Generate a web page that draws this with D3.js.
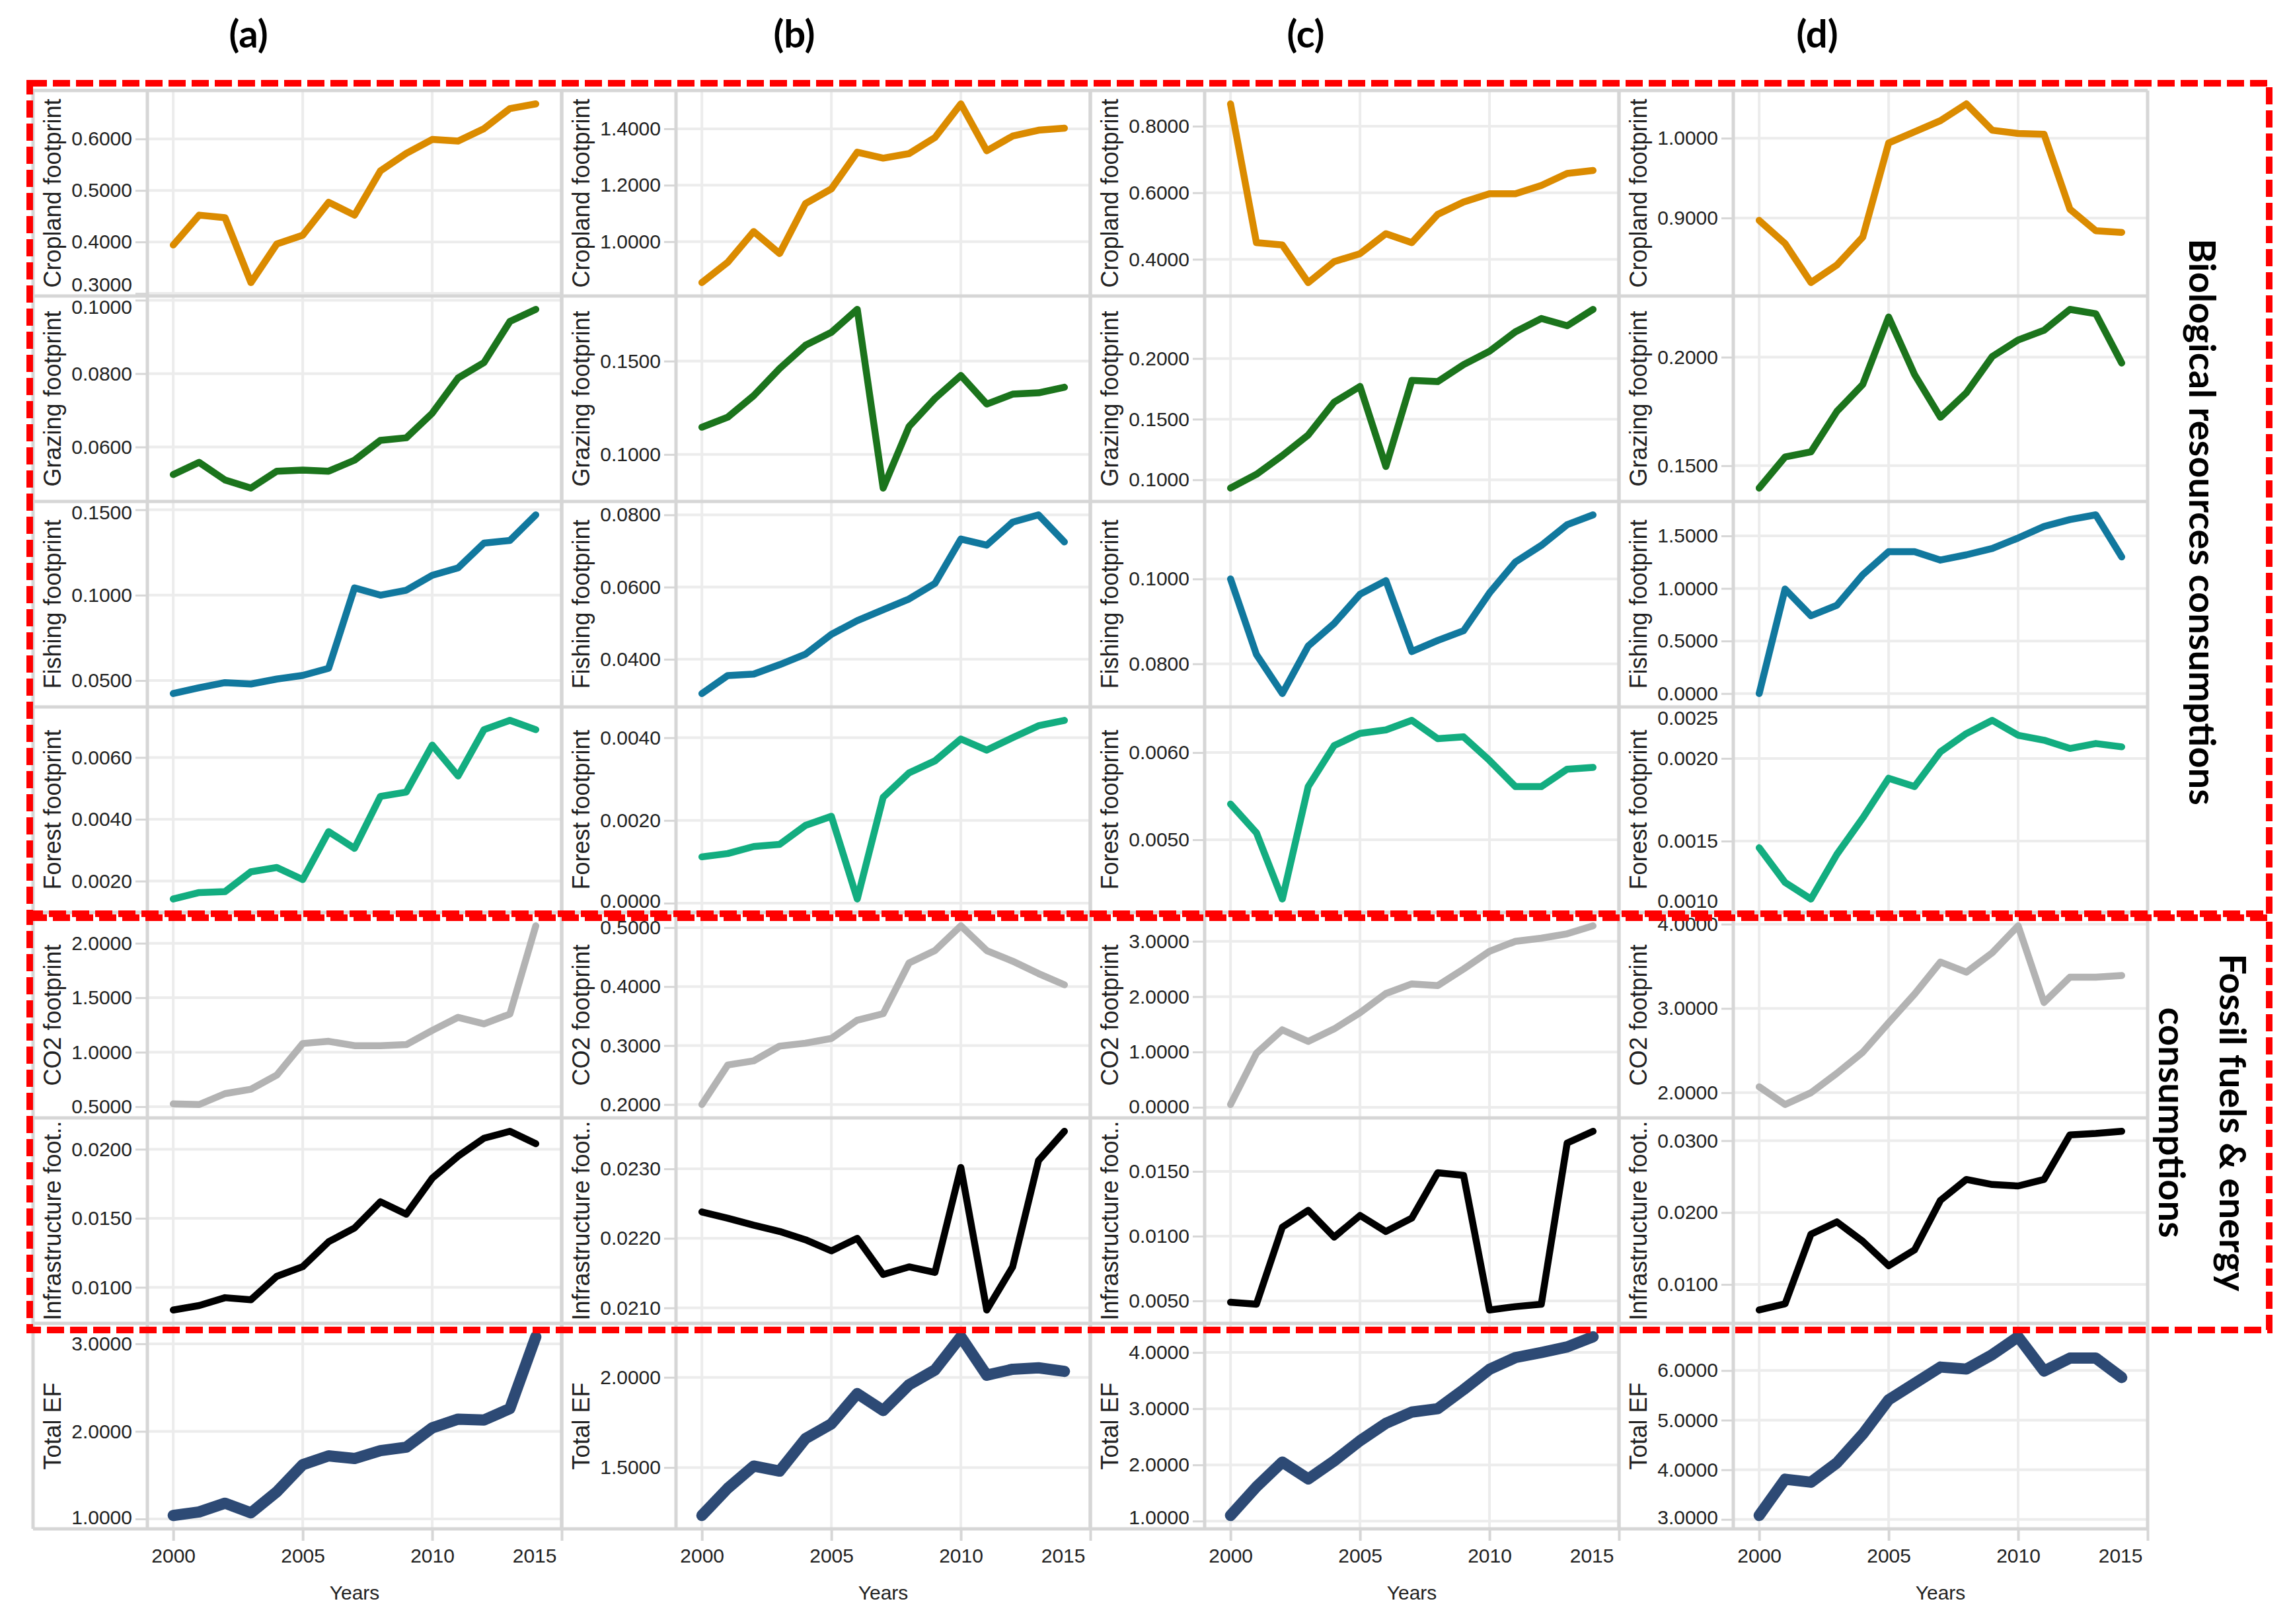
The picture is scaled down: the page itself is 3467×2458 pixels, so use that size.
<!DOCTYPE html>
<html lang="en">
<head>
<meta charset="utf-8">
<title>Footprint components 2000-2014</title>
<script src="https://d3js.org/d3.v7.min.js"></script>
<style>
  body { margin: 0; padding: 0; overflow: hidden; background: #fff; }
  text { font-family: "Liberation Sans", Arial, sans-serif; }
</style>
</head>
<body>
<svg id="chart"></svg>
<script>
const width = 3467;
const height = 2458;

// ---- data ----
const years = [2000, 2001, 2002, 2003, 2004, 2005, 2006, 2007, 2008, 2009, 2010, 2011, 2012, 2013, 2014];
const yearTicks = [2000, 2005, 2010, 2015];
const columnLabels = ["(a)", "(b)", "(c)", "(d)"];
const rowTitles = ["Cropland footprint", "Grazing footprint", "Fishing footprint", "Forest footprint",
  "CO2 footprint", "Infrastructure foot..", "Total EF"];

// one array per column (a, b, c, d)
const cropland = [
  [0.394, 0.452, 0.447, 0.321, 0.396, 0.413, 0.477, 0.452, 0.538, 0.572, 0.599, 0.596, 0.620, 0.659, 0.668],
  [0.855, 0.927, 1.036, 0.958, 1.135, 1.187, 1.317, 1.296, 1.312, 1.369, 1.488, 1.322, 1.374, 1.395, 1.402],
  [0.867, 0.450, 0.443, 0.330, 0.393, 0.417, 0.477, 0.450, 0.535, 0.572, 0.597, 0.597, 0.622, 0.658, 0.667],
  [0.897, 0.868, 0.819, 0.841, 0.876, 0.994, 1.008, 1.022, 1.043, 1.010, 1.006, 1.005, 0.911, 0.884, 0.882]
];
const grazing = [
  [0.0525, 0.0558, 0.0510, 0.0488, 0.0534, 0.0537, 0.0534, 0.0564, 0.0618, 0.0625, 0.0692, 0.0788, 0.0830, 0.0942, 0.0975],
  [0.1146, 0.1200, 0.1315, 0.1460, 0.1585, 0.1654, 0.1777, 0.0820, 0.1150, 0.1300, 0.1423, 0.1270, 0.1323, 0.1330, 0.1360],
  [0.0932, 0.1045, 0.1200, 0.1370, 0.1640, 0.1770, 0.1110, 0.1820, 0.1810, 0.1950, 0.2060, 0.2220, 0.2330, 0.2270, 0.2405],
  [0.1397, 0.1540, 0.1564, 0.1750, 0.1874, 0.2185, 0.1920, 0.1723, 0.1836, 0.2003, 0.2079, 0.2124, 0.2220, 0.2200, 0.1973]
];
const fishing = [
  [0.0424, 0.0458, 0.0488, 0.0480, 0.0509, 0.0530, 0.0572, 0.1043, 0.1000, 0.1029, 0.1116, 0.1160, 0.1305, 0.1320, 0.1470],
  [0.0305, 0.0355, 0.0359, 0.0385, 0.0414, 0.0469, 0.0507, 0.0537, 0.0567, 0.0610, 0.0733, 0.0716, 0.0780, 0.0800, 0.0725],
  [0.1000, 0.0822, 0.0730, 0.0842, 0.0895, 0.0964, 0.0996, 0.0829, 0.0855, 0.0878, 0.0967, 0.1040, 0.1079, 0.1128, 0.1151],
  [0.000, 0.994, 0.740, 0.840, 1.130, 1.350, 1.350, 1.270, 1.320, 1.380, 1.480, 1.590, 1.655, 1.700, 1.300]
];
const forest = [
  [0.00142, 0.00163, 0.00166, 0.00230, 0.00244, 0.00205, 0.00360, 0.00306, 0.00474, 0.00488, 0.00640, 0.00540, 0.00690, 0.00720, 0.00690],
  [0.00112, 0.00120, 0.00137, 0.00142, 0.00188, 0.00210, 0.00010, 0.00256, 0.00315, 0.00344, 0.00397, 0.00370, 0.00400, 0.00429, 0.00442],
  [0.00541, 0.00508, 0.00432, 0.00561, 0.00608, 0.00622, 0.00626, 0.00637, 0.00616, 0.00618, 0.00591, 0.00561, 0.00561, 0.00581, 0.00583],
  [0.00146, 0.00125, 0.00115, 0.00142, 0.00164, 0.00188, 0.00183, 0.00204, 0.00215, 0.00223, 0.00214, 0.00211, 0.00206, 0.00209, 0.00207]
];
const co2 = [
  [0.526, 0.520, 0.620, 0.660, 0.790, 1.080, 1.100, 1.060, 1.060, 1.070, 1.200, 1.320, 1.260, 1.350, 2.160],
  [0.200, 0.267, 0.274, 0.299, 0.304, 0.312, 0.343, 0.354, 0.440, 0.461, 0.503, 0.461, 0.443, 0.422, 0.403],
  [0.050, 0.976, 1.400, 1.190, 1.416, 1.710, 2.056, 2.230, 2.200, 2.500, 2.820, 3.000, 3.056, 3.136, 3.280],
  [2.070, 1.860, 2.000, 2.230, 2.480, 2.830, 3.170, 3.550, 3.430, 3.660, 3.980, 3.070, 3.370, 3.370, 3.390]
];
const infrastructure = [
  [0.00836, 0.00868, 0.00925, 0.00910, 0.01080, 0.01150, 0.01330, 0.01430, 0.01620, 0.01530, 0.01790, 0.01950, 0.02080, 0.02130, 0.02040],
  [0.02238, 0.02229, 0.02219, 0.02210, 0.02198, 0.02182, 0.02200, 0.02148, 0.02159, 0.02151, 0.02302, 0.02097, 0.02159, 0.02312, 0.02354],
  [0.00490, 0.00475, 0.01070, 0.01200, 0.00993, 0.01160, 0.01036, 0.01140, 0.01490, 0.01470, 0.00430, 0.00456, 0.00474, 0.01720, 0.01810],
  [0.00645, 0.00730, 0.01700, 0.01870, 0.01600, 0.01260, 0.01480, 0.02170, 0.02460, 0.02390, 0.02370, 0.02460, 0.03080, 0.03100, 0.03130]
];
const totalEF = [
  [1.04, 1.08, 1.18, 1.07, 1.31, 1.62, 1.72, 1.69, 1.78, 1.82, 2.04, 2.14, 2.13, 2.26, 3.08],
  [1.234, 1.385, 1.508, 1.480, 1.660, 1.742, 1.910, 1.816, 1.959, 2.041, 2.225, 2.012, 2.045, 2.053, 2.033],
  [1.10, 1.61, 2.05, 1.75, 2.07, 2.43, 2.74, 2.94, 3.00, 3.34, 3.70, 3.91, 4.00, 4.10, 4.28],
  [3.08, 3.81, 3.75, 4.14, 4.72, 5.41, 5.74, 6.07, 6.03, 6.32, 6.68, 5.99, 6.25, 6.25, 5.86]
];

// y tick values shown on each panel, per column
const croplandTicks = [[0.3, 0.4, 0.5, 0.6], [1.0, 1.2, 1.4], [0.4, 0.6, 0.8], [0.9, 1.0]];
const grazingTicks = [[0.06, 0.08, 0.10], [0.10, 0.15], [0.10, 0.15, 0.20], [0.15, 0.20]];
const fishingTicks = [[0.05, 0.10, 0.15], [0.04, 0.06, 0.08], [0.08, 0.10], [0, 0.5, 1.0, 1.5]];
const forestTicks = [[0.002, 0.004, 0.006], [0, 0.002, 0.004], [0.005, 0.006], [0.001, 0.0015, 0.002, 0.0025]];
const co2Ticks = [[0.5, 1.0, 1.5, 2.0], [0.2, 0.3, 0.4, 0.5], [0, 1, 2, 3], [2, 3, 4]];
const infrastructureTicks = [[0.01, 0.015, 0.02], [0.021, 0.022, 0.023], [0.005, 0.010, 0.015], [0.01, 0.02, 0.03]];
const totalTicks = [[1, 2, 3], [1.5, 2.0], [1, 2, 3, 4], [3, 4, 5, 6]];

const rowData = [cropland, grazing, fishing, forest, co2, infrastructure, totalEF];
const rowTicks = [croplandTicks, grazingTicks, fishingTicks, forestTicks, co2Ticks, infrastructureTicks, totalTicks];

// ---- styles / layout ----
const rowColors = ["#db8b00", "#1b741c", "#11789e", "#13ad80", "#b3b3b3", "#000000", "#2d4a75"];
const rowWidths = [10.5, 10.5, 10.5, 10.5, 10.5, 10.5, 17];

const colLeft0 = 50, colW = 800, headerW = 173;
const rowTop0 = 137, rowH = 311;
const headOffsets = [326, 352, 326, 300];
const gridColor = "#ececec", frameColor = "#d6d6d6";
const fmt4 = d3.format(".4f");

const svg = d3.select("#chart")
  .attr("width", width)
  .attr("height", height)
  .attr("viewBox", [0, 0, width, height]);

svg.append("rect").attr("width", width).attr("height", height).attr("fill", "#fff");

const bottom = rowTop0 + rowH * rowTitles.length;

columnLabels.forEach((lab, c) => {
  const cl = colLeft0 + c * colW;
  const plotLeft = cl + headerW, plotRight = cl + colW;
  const x = d3.scaleLinear().domain([1999, 2015]).range([plotLeft, plotRight]);

  const col = svg.append("g");

  // column header
  svg.append("text")
    .attr("x", cl + headOffsets[c])
    .attr("y", 72)
    .attr("text-anchor", "middle")
    .style("font-family", "Lato, 'Open Sans', sans-serif")
    .attr("font-weight", "bold")
    .attr("font-size", 58)
    .attr("fill", "#000")
    .text(lab);

  rowTitles.forEach((title, r) => {
    const rt = rowTop0 + r * rowH;
    const rb = rt + rowH;
    const vals = rowData[r][c];
    const ext = d3.extent(vals);
    const pad = (ext[1] - ext[0]) * 0.075;
    const y = d3.scaleLinear().domain([ext[0] - pad, ext[1] + pad]).range([rb, rt]);
    const ticks = rowTicks[r][c];

    const g = col.append("g");

    // vertical grid
    g.append("g").selectAll("line")
      .data(yearTicks.slice(0, 3))
      .join("line")
      .attr("x1", d => x(d)).attr("x2", d => x(d))
      .attr("y1", rt).attr("y2", rb)
      .attr("stroke", gridColor).attr("stroke-width", 4);

    // horizontal grid
    g.append("g").selectAll("line")
      .data(ticks.filter(t => y(t) > rt + 2 && y(t) < rb - 2))
      .join("line")
      .attr("x1", plotLeft).attr("x2", plotRight)
      .attr("y1", d => y(d)).attr("y2", d => y(d))
      .attr("stroke", gridColor).attr("stroke-width", 4);

    // y axis
    const ga = g.append("g")
      .attr("transform", `translate(${plotLeft},0)`)
      .call(d3.axisLeft(y).tickValues(ticks).tickFormat(fmt4).tickSize(18).tickPadding(5));
    ga.attr("font-size", null).attr("font-family", null);
    ga.select(".domain").remove();
    ga.selectAll(".tick line").attr("stroke", frameColor).attr("stroke-width", 3);
    ga.selectAll(".tick text").attr("font-size", 30).attr("fill", "#222");
    ga.selectAll(".tick").each(function (d) {
      const ty = y(d);
      const cy = Math.max(rt + 17, Math.min(rb - 17, ty));
      d3.select(this).select("text").attr("y", cy - ty);
      if (ty < rt + 2 || ty > rb - 2) d3.select(this).select("line").remove();
    });

    // y title
    g.append("text")
      .attr("transform", `translate(${cl + 42},${(rt + rb) / 2}) rotate(-90)`)
      .attr("text-anchor", "middle")
      .attr("font-size", 36)
      .attr("fill", "#222")
      .text(title);

    // series line
    const line = d3.line()
      .x((d, i) => x(years[i]))
      .y(d => y(d));
    g.append("path")
      .datum(vals)
      .attr("d", line)
      .attr("fill", "none")
      .attr("stroke", rowColors[r])
      .attr("stroke-width", rowWidths[r])
      .attr("stroke-linejoin", "round")
      .attr("stroke-linecap", "round");
  });

  // frames
  const frame = col.append("g").attr("stroke", frameColor).attr("stroke-width", 5);
  d3.range(rowTitles.length + 1).forEach(i => {
    frame.append("line")
      .attr("x1", cl).attr("x2", plotRight)
      .attr("y1", rowTop0 + i * rowH).attr("y2", rowTop0 + i * rowH);
  });
  [cl, plotLeft, plotRight].forEach(xx => {
    frame.append("line")
      .attr("x1", xx).attr("x2", xx)
      .attr("y1", rowTop0).attr("y2", bottom);
  });

  // x axis
  const gx = col.append("g")
    .attr("transform", `translate(0,${bottom})`)
    .call(d3.axisBottom(x).tickValues(yearTicks).tickFormat(d3.format("d")).tickSize(18).tickPadding(12));
  gx.attr("font-size", null).attr("font-family", null);
  gx.select(".domain").remove();
  gx.selectAll(".tick line").attr("stroke", frameColor).attr("stroke-width", 4);
  gx.selectAll(".tick text").attr("font-size", 30).attr("fill", "#222");
  gx.selectAll(".tick text").filter(d => d === 2015)
    .attr("text-anchor", "end").attr("dx", -8);

  col.append("text")
    .attr("x", (plotLeft + plotRight) / 2)
    .attr("y", bottom + 107)
    .attr("text-anchor", "middle")
    .attr("font-size", 30)
    .attr("fill", "#222")
    .text("Years");
});

// red dashed group boxes
const boxes = svg.append("g")
  .attr("fill", "none")
  .attr("stroke", "#ff0000")
  .attr("stroke-width", 10)
  .attr("stroke-dasharray", "26,9");
boxes.append("rect").attr("x", 45).attr("y", 126).attr("width", 3434 - 45).attr("height", 1383 - 126);
boxes.append("rect").attr("x", 45).attr("y", 1389).attr("width", 3434 - 45).attr("height", 2013 - 1389);

// group labels
const groupFont = "Lato, 'Open Sans', sans-serif";
svg.append("text")
  .attr("transform", "translate(3313,790) rotate(90)")
  .attr("text-anchor", "middle")
  .style("font-family", groupFont)
  .attr("font-weight", "bold")
  .attr("font-size", 56)
  .text("Biological resources consumptions");
svg.append("text")
  .attr("transform", "translate(3359,1699) rotate(90)")
  .attr("text-anchor", "middle")
  .style("font-family", groupFont)
  .attr("font-weight", "bold")
  .attr("font-size", 56)
  .text("Fossil fuels & energy");
svg.append("text")
  .attr("transform", "translate(3267,1699) rotate(90)")
  .attr("text-anchor", "middle")
  .style("font-family", groupFont)
  .attr("font-weight", "bold")
  .attr("font-size", 56)
  .text("consumptions");
</script>
</body>
</html>
